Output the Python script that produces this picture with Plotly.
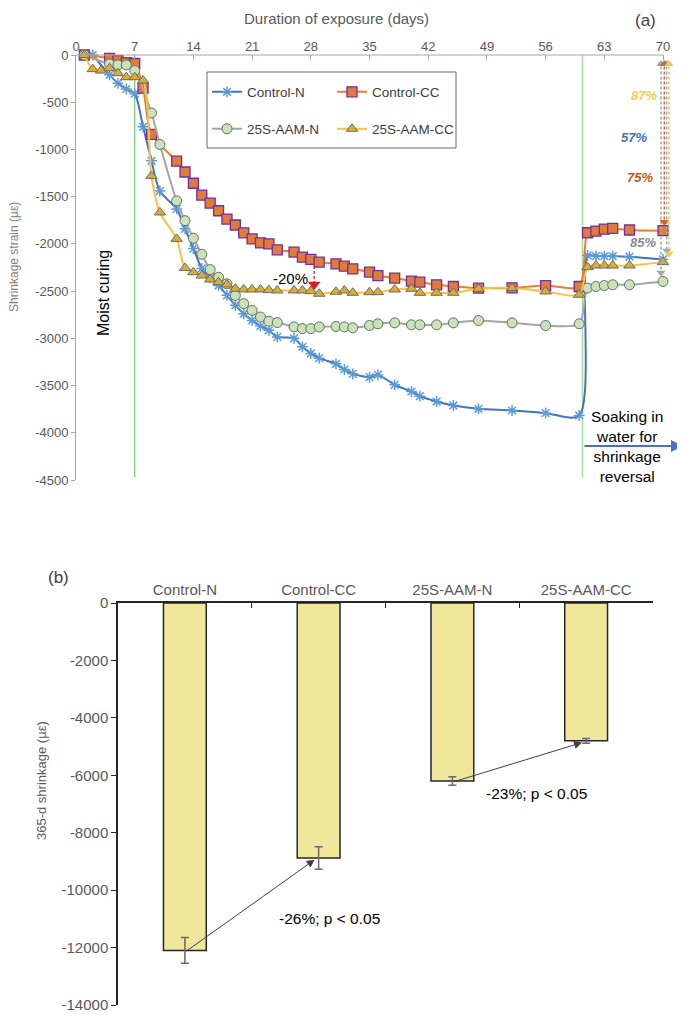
import plotly.graph_objects as go

# page has an 8px body margin -> figure is 8px smaller than the window, coords mapped accordingly
OFF = 8
W, H = 685 - OFF, 1015 - OFF

# ---------------- (a) shrinkage strain vs duration of exposure ----------------
days_control_n = [2, 4, 5, 6, 7, 8, 9, 10, 12, 13, 14, 15, 16, 17, 18, 19, 20, 21, 22, 23, 24, 26, 27, 28, 29,
                  31, 32, 33, 35, 36, 38, 40, 41, 43, 45, 48, 52, 56, 60, 61, 62, 63, 64, 66, 70]
strain_control_n = [0, -210, -300, -360, -410, -760, -1120, -1440, -1630, -1840, -2050, -2260, -2360, -2440, -2545,
                    -2650, -2740, -2810, -2870, -2915, -2985, -3000, -3090, -3160, -3210, -3270, -3330, -3376, -3411,
                    -3387, -3492, -3563, -3612, -3669, -3711, -3746, -3764, -3792, -3817, -2123, -2130, -2130, -2130,
                    -2135, -2165]

days_control_cc = [1, 4, 5, 6, 7, 8, 9, 12, 13, 14, 15, 16, 17, 18, 19, 20, 21, 22, 23, 24, 26, 27, 28, 29,
                   31, 32, 33, 35, 36, 38, 40, 41, 43, 45, 48, 52, 56, 60, 61, 62, 63, 64, 66, 70]
strain_control_cc = [0, -35, -60, -80, -90, -350, -840, -1123, -1239, -1358, -1484, -1569, -1649, -1737, -1800,
                     -1884, -1947, -1990, -2000, -2063, -2088, -2140, -2165, -2193, -2211, -2235, -2264, -2299, -2335,
                     -2362, -2394, -2405, -2433, -2451, -2468, -2465, -2441, -2451, -1882, -1864, -1843, -1836, -1853,
                     -1860]

days_aam_n = [1, 4, 5, 6, 7, 9, 10, 12, 13, 14, 15, 16, 17, 18, 19, 20, 21, 22, 23, 24, 26, 27, 28, 29,
              31, 32, 33, 35, 36, 38, 40, 41, 43, 45, 48, 52, 56, 60, 61, 62, 63, 64, 66, 70]
strain_aam_n = [0, -95, -105, -105, -165, -614, -947, -1544, -1754, -1940, -2110, -2272, -2353, -2423, -2546,
                -2633, -2704, -2774, -2819, -2833, -2879, -2897, -2897, -2879, -2875, -2879, -2889, -2864, -2846,
                -2836, -2857, -2857, -2857, -2836, -2811, -2836, -2864, -2846, -2468, -2451, -2441, -2433, -2433,
                -2398]

days_aam_cc = [1, 2, 3, 4, 5, 6, 7, 8, 9, 10, 12, 13, 14, 15, 16, 17, 18, 19, 20, 21, 22, 23, 24, 26, 27, 28, 29,
               31, 32, 33, 35, 36, 38, 40, 41, 43, 45, 48, 52, 56, 60, 61, 62, 63, 64, 66, 70]
strain_aam_cc = [0, -150, -165, -140, -193, -235, -235, -270, -1281, -1667, -1947, -2255, -2300, -2335, -2377,
                 -2405, -2430, -2475, -2482, -2482, -2482, -2489, -2493, -2493, -2493, -2500, -2528, -2507, -2493,
                 -2518, -2511, -2511, -2483, -2476, -2518, -2518, -2518, -2476, -2468, -2504, -2539, -2246, -2229,
                 -2229, -2229, -2229, -2193]

series_names = ["Control-N", "Control-CC", "25S-AAM-N", "25S-AAM-CC"]
recovery_labels = ["57%", "75%", "85%", "87%"]  # shrinkage reversal after soaking, per series
reduction_28d_label = "-20%"

x_ticks_a = [0, 7, 14, 21, 28, 35, 42, 49, 56, 63, 70]
y_ticks_a = [0, -500, -1000, -1500, -2000, -2500, -3000, -3500, -4000, -4500]

# ---------------- (b) 365-d shrinkage ----------------
mixes = ["Control-N", "Control-CC", "25S-AAM-N", "25S-AAM-CC"]
shrink_365 = [-12100, -8880, -6200, -4800]
shrink_365_err = [450, 390, 150, 80]
reduction_labels = ["-26%; p &lt; 0.05", "-23%; p &lt; 0.05"]
y_ticks_b = [0, -2000, -4000, -6000, -8000, -10000, -12000, -14000]


def px(x):
    return (x - OFF) / W


def py(y):
    return 1 - (y - OFF) / H


FONT = "Liberation Sans, Arial, sans-serif"
GREY_TXT = "#595959"

fig = go.Figure()

styles = [
    dict(line=dict(color="#4472C4", width=2),
         marker=dict(symbol="asterisk-open", size=9, color="#5B9BD5", line=dict(color="#5B9BD5", width=1.5))),
    dict(line=dict(color="#ED7D31", width=2),
         marker=dict(symbol="square", size=10, color="#E07B39", line=dict(color="#7030A0", width=1.3))),
    dict(line=dict(color="#A5A5A5", width=2),
         marker=dict(symbol="circle", size=10, color="#C9E3B8", line=dict(color="#6B6B6B", width=1))),
    dict(line=dict(color="#F5C242", width=2),
         marker=dict(symbol="triangle-up", size=10, color="#D9AE35", line=dict(color="#6B6B6B", width=1))),
]
all_days = [days_control_n, days_control_cc, days_aam_n, days_aam_cc]
all_strain = [strain_control_n, strain_control_cc, strain_aam_n, strain_aam_cc]
legend_of = ["legend", "legend", "legend2", "legend2"]

for name, d, s, st, lg in zip(series_names, all_days, all_strain, styles, legend_of):
    fig.add_trace(go.Scatter(
        x=d, y=s, name=name, mode="lines+markers",
        line=dict(shape="spline", smoothing=0.8, **st["line"]),
        marker=st["marker"], cliponaxis=False, legend=lg,
        xaxis="x", yaxis="y"))

# recovery arrows near day 70 (dashed, double headed)
arrow_x = [70.44, 70.15, 69.76, 70.71]
arrow_col = ["#8FAADC", "#D0652A", "#A5A5A5", "#F2C94C"]
txt_col = ["#4472C4", "#C55A11", "#8C8C8C", "#F2CF4A"]
txt_pos = [(634, 137), (640, 178), (643, 242), (644, 95)]
order = [2, 0, 1, 3]
for i in order:
    yb = all_strain[i][-1] + 50
    fig.add_trace(go.Scatter(
        x=[arrow_x[i], arrow_x[i]], y=[-70, yb + 40], mode="lines",
        line=dict(color=arrow_col[i], width=1.5, dash="3px,2px"),
        showlegend=False, hoverinfo="skip", xaxis="x", yaxis="y"))
    fig.add_trace(go.Scatter(
        x=[arrow_x[i], arrow_x[i]], y=[-95, yb + 42], mode="markers",
        marker=dict(symbol=["triangle-up", "triangle-down"], size=8, color=arrow_col[i]),
        cliponaxis=False, showlegend=False, hoverinfo="skip", xaxis="x", yaxis="y"))

# -20% arrow at day 28
i28_cc = days_control_cc.index(28)
i28_ac = days_aam_cc.index(28)
y_from = strain_control_cc[i28_cc] - 70
y_to = strain_aam_cc[i28_ac]
fig.add_trace(go.Scatter(
    x=[28.4, 28.4], y=[y_from, y_to + 80], mode="lines",
    line=dict(color="#E02424", width=1.3, dash="3px,2px"),
    showlegend=False, hoverinfo="skip", xaxis="x", yaxis="y"))
fig.add_trace(go.Scatter(
    x=[28.4], y=[y_to + 70], mode="markers",
    marker=dict(symbol="triangle-down", size=11, color="#D81E1E"),
    showlegend=False, hoverinfo="skip", xaxis="x", yaxis="y"))

# ---------------- bars ----------------
fig.add_trace(go.Bar(
    x=mixes, y=shrink_365, width=0.32, showlegend=False,
    marker=dict(color="#F0E79B", line=dict(color="#262626", width=1.5)),
    error_y=dict(type="data", array=shrink_365_err, color="#6B6B6B", thickness=1.5, width=4),
    xaxis="x2", yaxis="y2"))

shapes = [
    # top x axis line of (a)
    dict(type="line", xref="paper", yref="paper", x0=px(76), x1=px(663), y0=py(55), y1=py(55),
         line=dict(color="#A6A6A6", width=1)),
    # green lines (start/end of drying)
    dict(type="line", xref="x", yref="y", x0=7, x1=7, y0=0, y1=-4470, line=dict(color="#6CCB6C", width=1.2),
         layer="below"),
    dict(type="line", xref="x", yref="y", x0=60.4, x1=60.4, y0=0, y1=-4470,
         line=dict(color="#A3DDA3", width=1.5), layer="below"),
    # legend frame
    dict(type="rect", xref="paper", yref="paper", x0=px(207), x1=px(456), y0=py(72), y1=py(148),
         line=dict(color="#6B6B6B", width=1), fillcolor="rgba(255,255,255,0)"),
]


def label(text, x, y, size, color, angle=0, **kw):
    return dict(text=text, x=px(x), y=py(y), xref="paper", yref="paper", showarrow=False,
                xanchor="center", yanchor="middle", textangle=angle,
                font=dict(size=size, color=color), **kw)


annotations = [
    label("Duration of exposure (days)", 336, 18, 15, GREY_TXT),
    label("(a)", 645, 20, 17, "#404040"),
    label("Shrinkage strain (µε)", 14, 257, 12, "#7F7F7F", -90),
    label("Moist curing", 104, 293, 16, "#000000", -90),
    label(reduction_28d_label, 290.5, 278, 15, "#000000"),
    label("Soaking in<br>water for<br>shrinkage<br>reversal", 627, 447, 15.5, "#000000", align="center"),
    dict(text="", x=px(683), y=py(446), ax=-100, ay=0, xref="paper", yref="paper",
         axref="pixel", ayref="pixel",
         showarrow=True, arrowhead=2, arrowsize=1.2, arrowwidth=2, arrowcolor="#4472C4", standoff=0),
    label("(b)", 58, 577, 17, "#404040"),
    label("365-d shrinkage (µε)", 41, 781, 13, GREY_TXT, -90),
    dict(text="", x=0.97, y=shrink_365[1] - 60, ax=0, ay=shrink_365[0] - 60, xref="x2", yref="y2",
         axref="x2", ayref="y2", showarrow=True, arrowhead=2, arrowsize=1.6, arrowwidth=1,
         arrowcolor="#404040", standoff=0),
    dict(text="", x=2.97, y=shrink_365[3] - 60, ax=2, ay=shrink_365[2] - 40, xref="x2", yref="y2",
         axref="x2", ayref="y2", showarrow=True, arrowhead=2, arrowsize=1.6, arrowwidth=1,
         arrowcolor="#404040", standoff=0),
    label(reduction_labels[0], 329, 918, 15.5, "#000000"),
    label(reduction_labels[1], 536, 793, 15.5, "#000000"),
]
for i in range(4):
    annotations.append(label("<b><i>%s</i></b>" % recovery_labels[i], txt_pos[i][0], txt_pos[i][1],
                             13, txt_col[i]))

fig.update_layout(
    width=W, height=H, margin=dict(l=0, r=0, t=0, b=0, autoexpand=False),
    paper_bgcolor="white", plot_bgcolor="white",
    font=dict(family=FONT, color=GREY_TXT),
    showlegend=True,
    legend=dict(x=px(207), y=py(92), xanchor="left", yanchor="middle", orientation="h",
                entrywidth=80, font=dict(size=13.5, color="#404040"), bgcolor="rgba(0,0,0,0)"),
    legend2=dict(x=px(207), y=py(129), xanchor="left", yanchor="middle", orientation="h",
                 entrywidth=80, font=dict(size=13.5, color="#404040"), bgcolor="rgba(0,0,0,0)"),
    xaxis=dict(domain=[px(76), px(76 + 71 * 8.386)], range=[0, 71], side="top", anchor="y",
               tickvals=x_ticks_a, ticktext=[str(v) for v in x_ticks_a], ticks="inside", ticklen=5,
               tickcolor="#A6A6A6", showline=False, showgrid=False, zeroline=False, automargin=False,
               tickfont=dict(size=13, color=GREY_TXT)),
    yaxis=dict(domain=[py(480), py(55)], range=[-4500, 0], anchor="x", automargin=False,
               tickvals=y_ticks_a, ticktext=[str(v) for v in y_ticks_a], ticks="outside", ticklen=4,
               tickcolor="#A6A6A6", showline=True, linecolor="#A6A6A6", linewidth=1,
               showgrid=False, zeroline=False, tickfont=dict(size=13, color=GREY_TXT)),
    xaxis2=dict(domain=[px(118), px(653)], side="top", anchor="y2", type="category", automargin=False,
                ticks="inside", tickson="boundaries", ticklen=5, tickcolor="#262626",
                showline=True, linecolor="#262626", linewidth=1.5, showgrid=False, zeroline=False,
                tickfont=dict(size=15, color=GREY_TXT)),
    yaxis2=dict(domain=[py(1005), py(603)], range=[-14000, 0], anchor="x2", automargin=False,
                tickvals=y_ticks_b, ticktext=[str(v) for v in y_ticks_b], ticks="outside", ticklen=5,
                tickcolor="#262626", showline=True, linecolor="#262626", linewidth=1.5,
                showgrid=False, zeroline=False, tickfont=dict(size=15, color=GREY_TXT)),
    shapes=shapes, annotations=annotations,
)

fig.write_html("out.html")
